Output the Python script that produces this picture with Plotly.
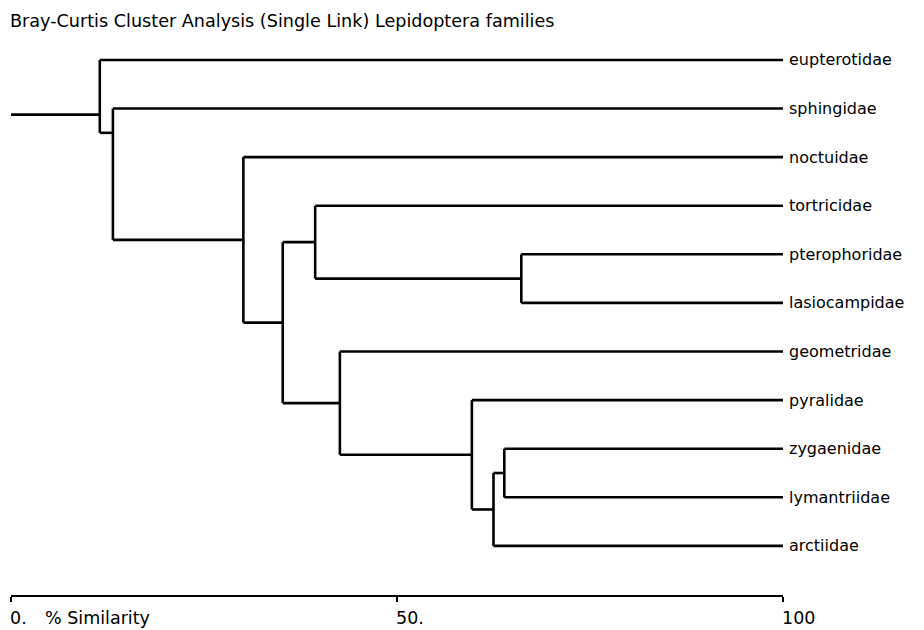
import plotly.graph_objects as go

# ---------------- data ----------------
leaves = ["eupterotidae", "sphingidae", "noctuidae", "tortricidae", "pterophoridae",
          "lasiocampidae", "geometridae", "pyralidae", "zygaenidae", "lymantriidae", "arctiidae"]

# merges (leaf ids 0..10, merged clusters get ids 11, 12, ...), similarity in %
merge_left = [4, 8, 12, 7, 6, 3, 16, 2, 1, 0]
merge_right = [5, 9, 10, 13, 14, 11, 15, 17, 18, 19]
merge_similarity = [66.1, 63.9, 62.5, 59.7, 42.6, 39.4, 35.2, 30.1, 13.2, 11.5]

axis_ticks = [0, 50, 100]
axis_tick_labels = ["0.", "50.", "100"]
axis_title = "% Similarity"
title = "Bray-Curtis Cluster Analysis (Single Link) Lepidoptera families"

# ---------------- style ----------------
FONT = "DejaVu Sans, Liberation Sans, Arial"
LINE_W = 2.6
# where the link to the parent attaches along a cluster's vertical bar (0.5 = middle)
attach_fraction = {19: 0.185, 20: 0.75}

n = len(leaves)
node_x = {i: 100.0 for i in range(n)}
node_y = {i: float(i) for i in range(n)}

xs, ys = [], []
for k, (a, b, s) in enumerate(zip(merge_left, merge_right, merge_similarity)):
    nid = n + k
    ya, yb = node_y[a], node_y[b]
    # vertical bar
    xs += [s, s, None]
    ys += [ya, yb, None]
    # horizontal arms to children
    xs += [s, node_x[a], None, s, node_x[b], None]
    ys += [ya, ya, None, yb, yb, None]
    f = attach_fraction.get(nid, 0.5)
    node_x[nid] = s
    node_y[nid] = ya + f * (yb - ya)

root = n + len(merge_left) - 1
xs += [0, node_x[root], None]
ys += [node_y[root], node_y[root], None]

fig = go.Figure()
fig.add_trace(go.Scatter(x=xs, y=ys, mode="lines",
                         line=dict(color="black", width=LINE_W),
                         hoverinfo="skip", showlegend=False, cliponaxis=False))

annotations = []
for i, name in enumerate(leaves):
    annotations.append(dict(x=100, y=i, xref="x", yref="y", text=name,
                            showarrow=False, xanchor="left", yanchor="middle",
                            xshift=4, font=dict(family=FONT, size=16, color="black")))
for v, lab in zip(axis_ticks, axis_tick_labels):
    annotations.append(dict(x=v, y=0, xref="x", yref="paper", text=lab,
                            showarrow=False, xanchor="left", yanchor="middle",
                            xshift=-3, yshift=-23,
                            font=dict(family=FONT, size=17.5, color="black")))
annotations.append(dict(x=0, y=0, xref="x", yref="paper", text=axis_title,
                        showarrow=False, xanchor="left", yanchor="middle",
                        xshift=32, yshift=-23,
                        font=dict(family=FONT, size=17.5, color="black")))

fig.update_layout(
    width=924, height=630,
    margin=dict(l=11, r=141, t=40, b=35),
    paper_bgcolor="white", plot_bgcolor="white",
    title=dict(text=title, x=10 / 924, xref="container", xanchor="left",
               y=1 - 21 / 630, yref="container", yanchor="middle",
               font=dict(family=FONT, size=17.6, color="black")),
    xaxis=dict(range=[0, 100], showgrid=False, zeroline=False,
               showline=True, linecolor="black", linewidth=1.5,
               ticks="outside", ticklen=5, tickwidth=1.5, tickcolor="black",
               tickvals=axis_ticks, showticklabels=False, fixedrange=True),
    yaxis=dict(range=[11.01, -0.41], showgrid=False, zeroline=False,
               showline=False, showticklabels=False, ticks="", fixedrange=True),
    annotations=annotations,
    showlegend=False,
)

fig.write_html("out.html")
